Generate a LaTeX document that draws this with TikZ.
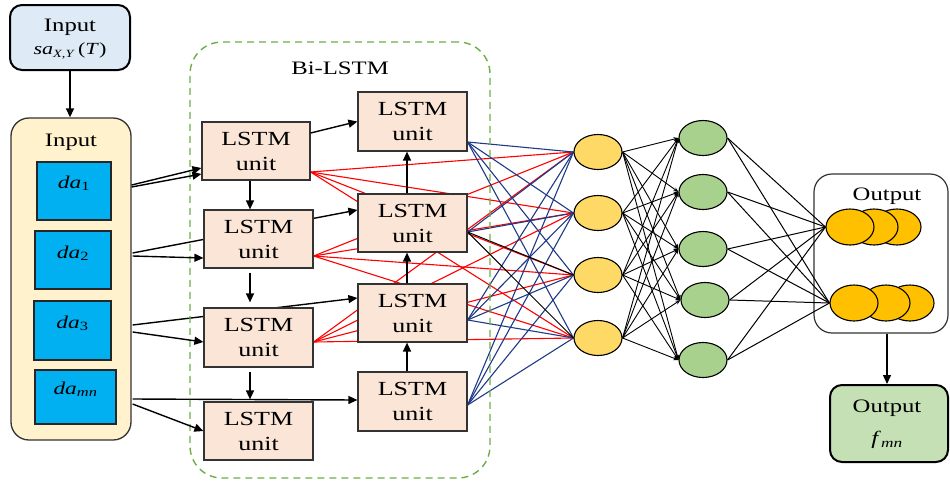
\documentclass[tikz,border=0pt]{standalone}
\usepackage{fontspec}
\setmainfont{Liberation Serif}[FakeStretch=1.3]
\usetikzlibrary{arrows.meta,shapes.geometric,calc}
\pgfdeclarelayer{bg}
\pgfsetlayers{bg,main}
\definecolor{topblue}{HTML}{DEEBF7}
\definecolor{panelfill}{HTML}{FFF2CC}
\definecolor{dablue}{HTML}{00B0F0}
\definecolor{lstmfill}{HTML}{FBE5D6}
\definecolor{dashgreen}{HTML}{70AD47}
\definecolor{ylwfill}{HTML}{FFD966}
\definecolor{grnfill}{HTML}{A9D18E}
\definecolor{orngfill}{HTML}{FFC000}
\definecolor{finalgreen}{HTML}{C5E0B4}
\definecolor{navyline}{HTML}{1F3B87}
\definecolor{redline}{HTML}{FF0000}
\begin{document}
\begin{tikzpicture}[x=1pt,y=-1pt,
  lstm/.style={draw=black!80, line width=1.2pt, fill=lstmfill, minimum width=109pt, minimum height=58pt, align=center, font=\fontsize{20}{25}\selectfont, inner sep=0pt},
  dabox/.style={draw=black!85, line width=1.2pt, fill=dablue, inner sep=0pt},
  dalbl/.style={font=\fontsize{18}{20}\selectfont, inner sep=0pt},
  neuron/.style={ellipse, draw=black, line width=1.1pt, minimum width=48pt, minimum height=35pt, inner sep=0pt},
  arr/.style={-{Triangle[length=9pt,width=8pt]}, line width=1.4pt, black},
  rline/.style={redline, line width=1.1pt},
  bline/.style={navyline, line width=1.1pt},
  kline/.style={black, line width=1pt},
  karr/.style={black, line width=0.9pt, -{Stealth[length=5pt,width=4pt]}},
  lbl/.style={font=\fontsize{19}{22}\selectfont, inner sep=0pt}
]
\useasboundingbox (0,0) rectangle (950,485);

% Bi-LSTM dashed region
\node[draw=dashgreen, line width=1.4pt, dash pattern=on 7pt off 5pt, rounded corners=32pt,
      minimum width=300pt, minimum height=436pt, inner sep=0pt] (bilstm) at (340,260) {};
\node[lbl] (bilbl) at (340,68) {Bi-LSTM};

% Top input box
\node[draw=black, line width=2pt, fill=topblue, rounded corners=12pt, minimum width=120pt,
      minimum height=65pt, inner sep=0pt] (top) at (70,37.5) {};
\node[lbl] (toplbl) at (70,27) {Input};
\node[font=\fontsize{17}{19}\selectfont, inner sep=0pt] (topsub) at (70,51)
      {\textit{sa}\textsubscript{\fontsize{11}{11}\selectfont\textit{X,Y}}\,(\textit{T})};

% Input panel
\node[draw=black!80, line width=1.3pt, fill=panelfill, rounded corners=18pt, minimum width=120pt,
      minimum height=322pt, inner sep=0pt] (inp) at (71,279) {};
\node[lbl] (inplbl) at (71,142) {Input};

\node[dabox, minimum width=74pt, minimum height=58pt] (da1) at (74,191) {};
\node[dabox, minimum width=76pt, minimum height=58pt] (da2) at (73,260) {};
\node[dabox, minimum width=77pt, minimum height=59pt] (da3) at (72.5,330.5) {};
\node[dabox, minimum width=81pt, minimum height=54pt] (dmn) at (75.5,397) {};
\node[dalbl] (da1t) at ($(da1.north)+(0,22)$) {\textit{da}\textsubscript{1}};
\node[dalbl] (da2t) at ($(da2.north)+(0,23)$) {\textit{da}\textsubscript{2}};
\node[dalbl] (da3t) at ($(da3.north)+(0,23)$) {\textit{da}\textsubscript{3}};
\node[dalbl] (dmnt) at ($(dmn.north)+(0,20)$) {\textit{da}\textsubscript{\textit{mn}}};

% LSTM units
\node[lstm, minimum width=108pt] (L1) at (256,151) {LSTM\\unit};
\node[lstm] (L2) at (258.5,239) {LSTM\\unit};
\node[lstm, minimum height=59pt] (L3) at (258.5,337.5) {LSTM\\unit};
\node[lstm] (L4) at (258.5,431) {LSTM\\unit};
\node[lstm, minimum height=59pt] (R1) at (412.5,121.5) {LSTM\\unit};
\node[lstm] (R2) at (412.5,223) {LSTM\\unit};
\node[lstm] (R3) at (412.5,313) {LSTM\\unit};
\node[lstm, minimum height=59pt] (R4) at (412.5,401.5) {LSTM\\unit};

% hidden layers
\foreach \i/\yy in {1/152,2/213,3/275,4/338}
  \node[neuron, fill=ylwfill] (Y\i) at (598,\yy) {};
\foreach \i/\xx/\yy in {1/703/138,2/703/192,3/703/249,4/705/300,5/703/360}
  \node[neuron, fill=grnfill] (G\i) at (\xx,\yy) {};

% Output box
\node[draw=black!80, line width=1.2pt, fill=white, rounded corners=18pt, minimum width=134pt,
      minimum height=159pt, inner sep=0pt] (outbox) at (881,253.5) {};
\node[lbl] (outlbl) at (887,196) {Output};
\node[neuron, fill=orngfill, minimum height=36pt] (O1c) at (897,227) {};
\node[neuron, fill=orngfill, minimum height=36pt] (O1b) at (874,227) {};
\node[neuron, fill=orngfill, minimum height=36pt] (O1a) at (850,227) {};
\node[neuron, fill=orngfill, minimum height=36pt] (O2c) at (910,303) {};
\node[neuron, fill=orngfill, minimum height=36pt] (O2b) at (886,303) {};
\node[neuron, fill=orngfill, minimum height=36pt] (O2a) at (854,303) {};

% Final output
\node[draw=black, line width=2pt, fill=finalgreen, rounded corners=12pt, minimum width=118pt,
      minimum height=77pt, inner sep=0pt] (final) at (889,423.5) {};
\node[lbl] (finlbl) at (887,408) {Output};
\node[font=\fontsize{19}{21}\selectfont, inner sep=0pt] (finsub) at (887,440)
      {\textit{f}\textsubscript{\textit{mn}}};

% ---- connectors on background layer
\begin{pgfonlayer}{bg}
  \foreach \s/\dy in {L1/21,L2/17,L3/4.5}
    \foreach \t in {1,...,4}
      \draw[rline] ($(\s.east)+(0,\dy)$) -- (Y\t.west);
  \foreach \s/\dy in {R1/20.5,R3/7,R4/3.5}
    \foreach \t in {1,...,4}
      \draw[bline] ($(\s.east)+(0,\dy)$) -- (Y\t.west);
  \foreach \t in {1,2}
    \draw[bline] ($(R2.east)+(0,9)$) -- (Y\t.west);
  \foreach \t in {3,4}
    \draw[kline] ($(R2.east)+(0,9)$) -- (Y\t.west);
  \draw[arr] ($(da2.east)+(21,-7)$) -- ($(R2.west)+(0,-13)$);
  \draw[arr] ($(da3.east)+(21,-5.5)$) -- ($(R3.west)+(0,-15)$);
  \draw[arr] ($(dmn.east)+(16,2)$) -- ($(R4.west)+(0,-1.5)$);
\end{pgfonlayer}

\foreach \a in {1,...,4}
  \foreach \b in {1,...,5}
    \draw[karr] (Y\a.east) -- (G\b.west);
\foreach \b in {1,...,5}{
  \draw[kline] (G\b.east) -- (O1a.west);
  \draw[kline] (G\b.east) -- (O2a.west);
}

% input arrows
\draw[arr] (top.south) -- (top.south |- inp.north);
\draw[arr] ($(da1.east)+(20,-6)$) -- ($(L1.west)+(0,17)$);
\draw[arr] ($(da1.east)+(20,-4)$) -- ($(L1.west)+(0,23)$);
\draw[arr] ($(da2.east)+(21,-4)$) -- ($(L2.west)+(0,19)$);
\draw[arr] ($(da3.east)+(21,1.5)$) -- ($(L3.west)+(0,4.5)$);
\draw[arr] ($(dmn.east)+(16,7)$) -- (L4.west);

% LSTM arrows
\draw[arr] ($(L1.east)+(0,-18)$) -- (R1.west);
\draw[arr] ([xshift=-6pt]L1.south) -- ([xshift=-6pt]L1.south |- L2.north);
\draw[arr, shorten <=4pt, shorten >=5pt] ([xshift=-8.5pt]L2.south) -- ([xshift=-8.5pt]L2.south |- L3.north);
\draw[arr, shorten <=4pt, shorten >=2pt] ([xshift=-8.5pt]L3.south) -- ([xshift=-8.5pt]L3.south |- L4.north);
\draw[arr] ([xshift=-5.5pt]R4.north) -- ([xshift=-5.5pt]R4.north |- R3.south);
\draw[arr] ([xshift=-5.5pt]R3.north) -- ([xshift=-5.5pt]R3.north |- R2.south);
\draw[arr] ([xshift=-5.5pt]R2.north) -- ([xshift=-5.5pt]R2.north |- R1.south);

% output arrow
\draw[arr] ([xshift=6pt]outbox.south) -- ([xshift=6pt]outbox.south |- final.north);
\end{tikzpicture}
\end{document}
